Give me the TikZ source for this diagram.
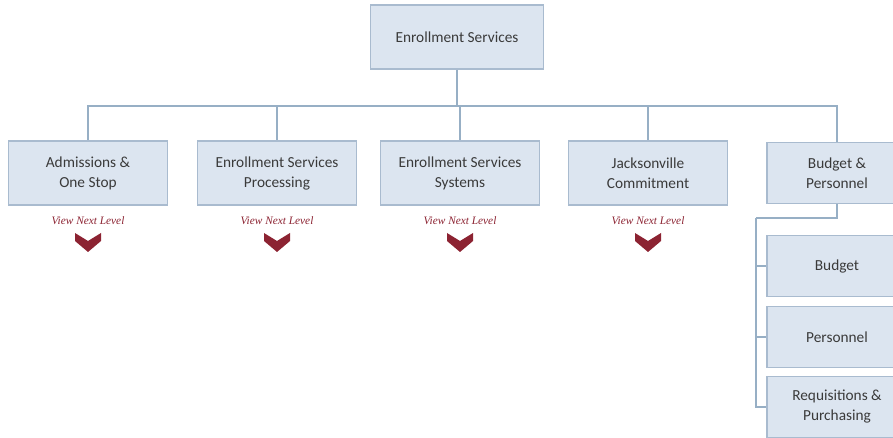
\documentclass[tikz,border=0pt]{standalone}
\usepackage{fontspec}
\setmainfont{Carlito}
\newfontfamily\labelfont{Liberation Serif}
\usetikzlibrary{positioning}

\definecolor{boxfill}{HTML}{DCE5F0}
\definecolor{boxline}{HTML}{A9BBCF}
\definecolor{treeline}{HTML}{97AFC5}
\definecolor{boxtext}{HTML}{3A3A3A}
\definecolor{nextred}{RGB}{140,35,50}

\begin{document}
\begin{tikzpicture}[x=0.75pt, y=-0.75pt,
    unit/.style={rectangle, draw=boxline, fill=boxfill, line width=0.8pt, text=boxtext, align=center,
        font=\fontsize{11.5}{15}\selectfont, inner sep=0pt, minimum width=119pt, minimum height=48pt},
    subunit/.style={unit, minimum width=105pt, minimum height=46pt},
    link/.style={draw=treeline, line width=1.2pt},
    nextlabel/.style={text=nextred, font=\labelfont\itshape\fontsize{8.5}{10}\selectfont, inner sep=0pt},
    vchev/.pic={\fill[nextred] (-13,-9) -- (0,-1) -- (13,-9) -- (13,-1) -- (0,10) -- (-13,-1) -- cycle;}]

    \useasboundingbox (0,0) rectangle (893,438);
    \clip (0,0) rectangle (893,438);

    \node (top) [unit, minimum width=130pt] at (457,37) {Enrollment Services};

    \node (adm) [unit] at (88,173) {Admissions \&\\One Stop};
    \node (proc) [unit] at (277,173) {Enrollment Services\\Processing};
    \node (sys) [unit] at (460,173) {Enrollment Services\\Systems};
    \node (jax) [unit] at (648,173) {Jacksonville\\Commitment};
    \node (bp) [subunit] at (837,173) {Budget \&\\Personnel};

    \node (bud) [subunit] at (837,266) {Budget};
    \node (pers) [subunit] at (837,337) {Personnel};
    \node (req) [subunit] at (837,407) {Requisitions \&\\Purchasing};

    % next level links
    \node (admnext) [nextlabel] at (88,221) {View Next Level};
    \node (procnext) [nextlabel] at (277,221) {View Next Level};
    \node (sysnext) [nextlabel] at (460,221) {View Next Level};
    \node (jaxnext) [nextlabel] at (648,221) {View Next Level};
    \pic at (88,242) {vchev};
    \pic at (277,242) {vchev};
    \pic at (460,242) {vchev};
    \pic at (648,242) {vchev};

    % tree lines
    \coordinate (bus) at (457,106);
    \coordinate (fork) at (756,218);
    \draw [link] (top.south) -- (bus);
    \draw [link] (bus) -| (adm.north);
    \draw [link] (bus) -| (proc.north);
    \draw [link] (bus) -| (sys.north);
    \draw [link] (bus) -| (jax.north);
    \draw [link] (bus) -| (bp.north);
    \draw [link] (bp.south) |- (fork);
    \draw [link] (fork) |- (bud.west);
    \draw [link] (fork) |- (pers.west);
    \draw [link] (fork) |- (req.west);
\end{tikzpicture}
\end{document}
